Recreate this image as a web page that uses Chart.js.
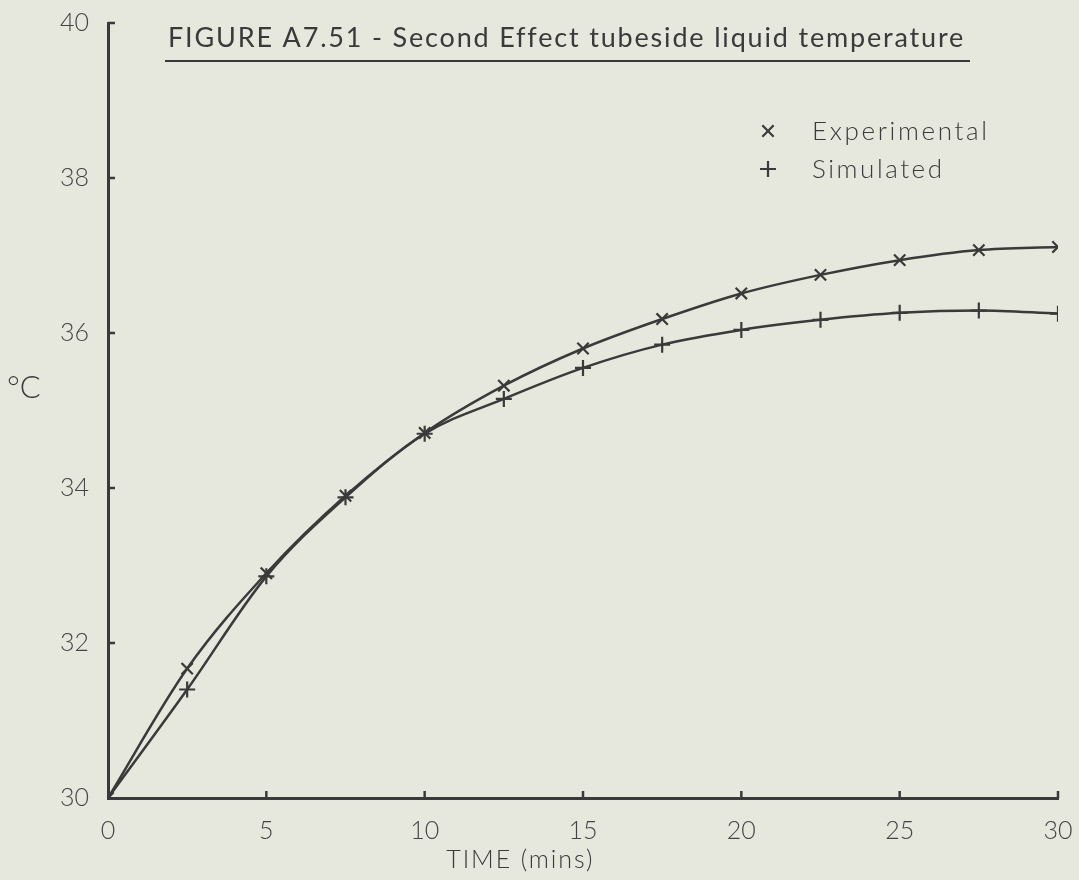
<!DOCTYPE html>
<html><head><meta charset="utf-8">
<script src="https://cdn.jsdelivr.net/npm/chart.js@4/dist/chart.umd.min.js"></script>
<style>html,body{margin:0;padding:0;background:#e6e8de;}#wrap{width:1079px;height:880px;position:relative}</style>
</head><body><div id="wrap"><canvas id="c" width="1079" height="880"></canvas></div>
<script>
const timeMins = [0, 2.5, 5, 7.5, 10, 12.5, 15, 17.5, 20, 22.5, 25, 27.5, 30];
const experimental = [30, 31.67, 32.9, 33.9, 34.71, 35.32, 35.80, 36.18, 36.51, 36.75, 36.94, 37.07, 37.11];
const simulated = [30, 31.40, 32.86, 33.88, 34.70, 35.15, 35.55, 35.85, 36.04, 36.17, 36.26, 36.29, 36.25];
const xTicks = [0, 5, 10, 15, 20, 25, 30];
const yTicks = [30, 32, 34, 36, 38, 40];
const titleText = 'FIGURE A7.51 - Second Effect tubeside liquid temperature';
const xTitle = 'TIME (mins)';
const yTitle = '°C';
const seriesNames = ['Experimental', 'Simulated'];

const INK = '#3a3a3a';
const FONT = 'Lato, "DejaVu Sans", sans-serif';

function pts(vals) { return timeMins.map((t, i) => ({ x: t, y: vals[i] })); }

function spacedText(ctx, text, x, y, targetWidth) {
  try { ctx.letterSpacing = '0px'; } catch (e) {}
  const w0 = ctx.measureText(text).width;
  const extra = (targetWidth - w0) / Math.max(1, text.length - 1);
  try { ctx.letterSpacing = extra.toFixed(2) + 'px'; } catch (e) {}
  ctx.fillText(text, x, y);
  try { ctx.letterSpacing = '0px'; } catch (e) {}
}

const decor = {
  id: 'decor',
  beforeDraw(chart) {
    const ctx = chart.ctx;
    ctx.save();
    ctx.fillStyle = '#e6e8de';
    ctx.fillRect(0, 0, chart.width, chart.height);
    ctx.restore();
  },
  afterDraw(chart) {
    const ctx = chart.ctx;
    const xs = chart.scales.x, ys = chart.scales.y;
    const area = chart.chartArea;
    ctx.save();
    // inward tick marks
    ctx.strokeStyle = INK;
    ctx.lineWidth = 2.5;
    yTicks.forEach(v => {
      if (v === ys.min) return;
      const y = ys.getPixelForValue(v);
      ctx.beginPath(); ctx.moveTo(area.left, y); ctx.lineTo(area.left + 7, y); ctx.stroke();
    });
    xTicks.forEach(v => {
      if (v === xs.min) return;
      const x = xs.getPixelForValue(v);
      ctx.beginPath(); ctx.moveTo(x, area.bottom); ctx.lineTo(x, area.bottom - 7); ctx.stroke();
    });
    // title
    ctx.fillStyle = INK;
    ctx.font = '400 27px ' + FONT;
    ctx.textBaseline = 'middle';
    ctx.textAlign = 'left';
    spacedText(ctx, titleText, 168, 38, 794);
    ctx.lineWidth = 2.2;
    ctx.beginPath(); ctx.moveTo(165, 61); ctx.lineTo(970, 61); ctx.stroke();
    // legend
    ctx.font = '300 26px ' + FONT;
    const legendWidths = [175, 130];
    chart.data.datasets.forEach((ds, i) => {
      const my = 131 + i * 38;
      Chart.helpers.drawPoint(ctx, { pointStyle: ds.pointStyle, radius: 8, borderWidth: 2.5, rotation: 0 }, 768, my);
      spacedText(ctx, ds.label, 812, my + 1, legendWidths[i]);
    });
    // axis titles
    ctx.font = '300 25px ' + FONT;
    ctx.textAlign = 'left';
    const xl = area.left + (area.right - area.left) * 0.433 - 73;
    spacedText(ctx, xTitle, xl, 860, 146);
    ctx.font = '300 31px ' + FONT;
    ctx.fillText(yTitle, 7, 388);
    ctx.restore();
  }
};

new Chart(document.getElementById('c'), {
  type: 'line',
  data: {
    datasets: [
      { label: seriesNames[0], data: pts(experimental), pointStyle: 'crossRot' },
      { label: seriesNames[1], data: pts(simulated), pointStyle: 'cross' }
    ]
  },
  options: {
    responsive: false,
    animation: false,
    devicePixelRatio: 1,
    layout: { padding: { top: 23, right: 21, left: 0, bottom: 0 } },
    elements: {
      line: { borderColor: INK, borderWidth: 2.5, cubicInterpolationMode: 'monotone', fill: false },
      point: { radius: 8, borderWidth: 2.2, borderColor: INK, backgroundColor: INK, hoverRadius: 8 }
    },
    plugins: { legend: { display: false }, title: { display: false }, tooltip: { enabled: false } },
    scales: {
      x: {
        type: 'linear', min: 0, max: 30,
        afterBuildTicks: s => { s.ticks = xTicks.map(v => ({ value: v })); },
        afterFit: s => { s.height = 82; s.paddingLeft = 0; s.paddingRight = 0; },
        grid: { display: false, drawTicks: false },
        border: { display: true, color: INK, width: 3 },
        ticks: { padding: 18, color: '#444', font: { family: FONT, size: 25, weight: '300' } }
      },
      y: {
        type: 'linear', min: 30, max: 40,
        afterBuildTicks: s => { s.ticks = yTicks.map(v => ({ value: v })); },
        afterFit: s => { s.width = 108; s.paddingTop = 0; s.paddingBottom = 0; },
        grid: { display: false, drawTicks: false },
        border: { display: true, color: INK, width: 3 },
        ticks: { padding: 19, color: '#444', font: { family: FONT, size: 25, weight: '300' } }
      }
    }
  },
  plugins: [decor]
});
</script></body></html>
